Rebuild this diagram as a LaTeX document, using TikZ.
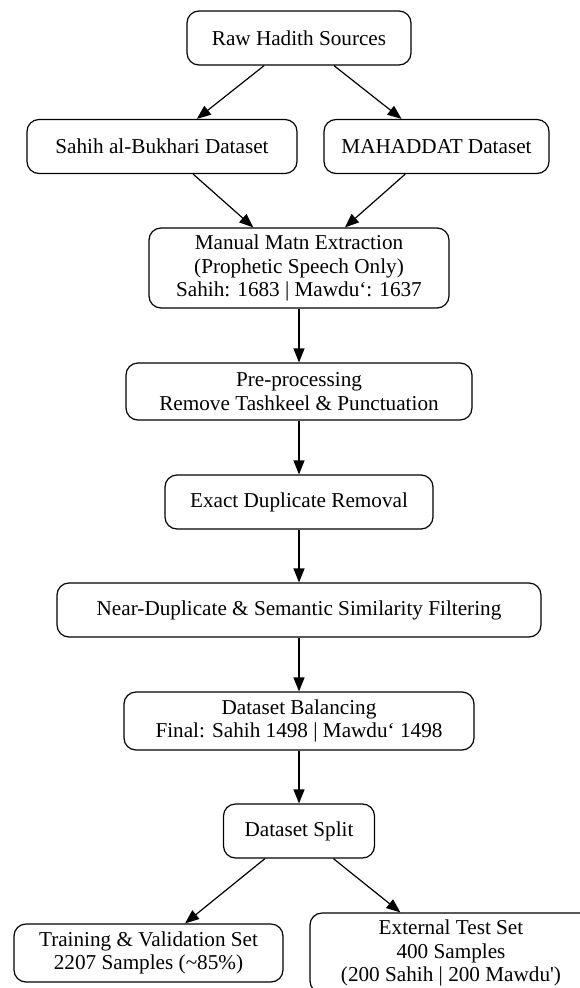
\documentclass[tikz,border=0pt]{standalone}
\usepackage{fontspec}
\setmainfont{Liberation Serif}
\usetikzlibrary{arrows.meta}

\begin{document}
\begin{tikzpicture}[x = 1pt, y = -1pt,
    stage/.style = {draw = black, line width = 1.2pt, rounded corners = 12pt, align = center,
    font = \fontsize{21.2}{23.5}\selectfont, minimum height = 54pt, inner ysep = 6pt, inner xsep = 0pt},
    flow/.style = {draw = black, line width = 1.2pt, -{Triangle[length = 14pt, width = 11pt]}}]
 \useasboundingbox (0, 0) rectangle (579, 988);

 \node[stage, minimum width = 224pt] (raw) at (299, 38) {Raw Hadith Sources};

 \node[stage, minimum width = 270pt] (bukhari) at (162, 146.5) {Sahih al-Bukhari Dataset};

 \node[stage, minimum width = 225pt] (mahaddat) at (436.5, 146.5) {MAHADDAT Dataset};

 \node[stage, minimum width = 300pt, minimum height = 80pt] (matn) at (299, 268)
  {Manual Matn Extraction\\ (Prophetic Speech Only)\\ Sahih: 1683 | Mawdu‘: 1637};

 \node[stage, minimum width = 346pt, minimum height = 57pt] (prep) at (299, 391.5)
  {Pre-processing\\ Remove Tashkeel \& Punctuation};

 \node[stage, minimum width = 268pt] (exact) at (299, 502) {Exact Duplicate Removal};

 \node[stage, minimum width = 484pt] (near) at (299, 610) {Near-Duplicate \& Semantic Similarity Filtering};

 \node[stage, minimum width = 350pt, minimum height = 58pt] (balance) at (299, 721)
  {Dataset Balancing\\ Final: Sahih 1498 | Mawdu‘ 1498};

 \node[stage, minimum width = 151pt] (split) at (299, 831) {Dataset Split};

 \node[stage, minimum width = 269pt, minimum height = 58pt] (train) at (148.5, 953)
  {Training \& Validation Set\\ 2207 Samples (\textasciitilde85\%)};

 \node[stage, minimum width = 282pt, minimum height = 80pt] (test) at (451, 953)
  {External Test Set\\ 400 Samples\\ (200 Sahih | 200 Mawdu\textquotesingle)};

 \draw[flow] (raw) -- (bukhari);
 \draw[flow] (raw) -- (mahaddat);
 \draw[flow] (bukhari) -- (matn);
 \draw[flow] (mahaddat) -- (matn);
 \draw[flow] (matn) -- (prep);
 \draw[flow] (prep) -- (exact);
 \draw[flow] (exact) -- (near);
 \draw[flow] (near) -- (balance);
 \draw[flow] (balance) -- (split);
 \draw[flow] (split) -- (train);
 \draw[flow] (split) -- (test);
\end{tikzpicture}
\end{document}
